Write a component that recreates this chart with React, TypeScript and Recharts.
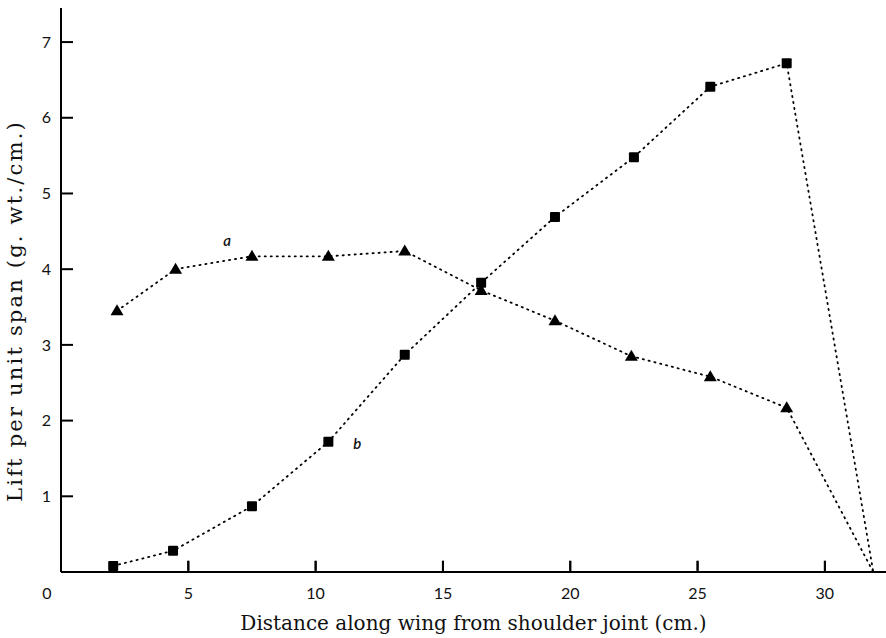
import React from "react";
import {
  LineChart,
  Line,
  XAxis,
  YAxis,
  ReferenceDot,
  ReferenceLine,
} from "recharts";

// distance along wing (cm)
const distA = [2.2, 4.5, 7.5, 10.5, 13.5, 16.5, 19.4, 22.4, 25.5, 28.5, 31.9];
const liftA = [3.45, 4.0, 4.17, 4.17, 4.24, 3.72, 3.32, 2.85, 2.58, 2.17, 0];

const distB = [2.05, 4.4, 7.5, 10.5, 13.5, 16.5, 19.4, 22.5, 25.5, 28.5, 31.9];
const liftB = [0.08, 0.28, 0.87, 1.72, 2.87, 3.82, 4.69, 5.48, 6.41, 6.72, 0];

const xTicks = [0, 5, 10, 15, 20, 25, 30];
const yTicks = [1, 2, 3, 4, 5, 6, 7];

const seriesA = distA.map((x, i) => ({ x, y: liftA[i] }));
const seriesB = distB.map((x, i) => ({ x, y: liftB[i] }));

const tickFont = "Lato, 'Open Sans', sans-serif";
const serif = "'DejaVu Serif', 'Liberation Serif', serif";

function triangle(props: any) {
  const { cx, cy, index } = props;
  if (index === distA.length - 1) return <g key={"ta" + index} />;
  const s = 6.5;
  return (
    <polygon
      key={"ta" + index}
      points={`${cx},${cy - s} ${cx - s},${cy + s * 0.7} ${cx + s},${cy + s * 0.7}`}
      fill="#000"
    />
  );
}

function square(props: any) {
  const { cx, cy, index } = props;
  if (index === distB.length - 1) return <g key={"sb" + index} />;
  return (
    <rect key={"sb" + index} x={cx - 5} y={cy - 5} width={10} height={10} rx={1} fill="#000" />
  );
}

// tick label plus a short upward tick mark drawn from the axis line
function XTick(props: any) {
  const { x, y, payload } = props;
  const dx = payload.value === 0 ? -14 : 0;
  const axisY = y - 14;
  return (
    <g>
      {payload.value !== 0 && (
        <rect x={x - 1} y={axisY - 11} width={2} height={11} fill="#000" />
      )}
      <text
        x={x + dx}
        y={y}
        textAnchor="middle"
        dominantBaseline="hanging"
        fontFamily={tickFont}
        fontSize={16}
        fill="#111"
      >
        {payload.value}
      </text>
    </g>
  );
}

function YTitle(props: any) {
  const { viewBox } = props;
  const cx = viewBox.x + 15;
  const cy = viewBox.y + viewBox.height / 2 + 21;
  return (
    <text
      x={cx}
      y={cy}
      transform={`rotate(-90, ${cx}, ${cy})`}
      textAnchor="middle"
      dominantBaseline="central"
      fontFamily={serif}
      fontSize={21}
      letterSpacing={2.2}
      fill="#111"
    >
      Lift per unit span (g. wt./cm.)
    </text>
  );
}

export default function App() {
  return (
    <div style={{ position: "absolute", left: 0, top: 0, background: "#fff" }}>
      <LineChart
        width={886}
        height={638}
        margin={{ top: 8, right: 0, bottom: 0, left: 0 }}
      >
        <XAxis
          type="number"
          dataKey="x"
          domain={[0, 32.4]}
          ticks={xTicks}
          height={66}
          tickSize={0}
          tickMargin={14}
          tickLine={false}
          tick={<XTick />}
          axisLine={{ stroke: "#000", strokeWidth: 2 }}
          label={{
            value: "Distance along wing from shoulder joint (cm.)",
            position: "insideBottom",
            offset: 8,
            style: { fontFamily: serif, fontSize: 20, fill: "#111" },
          }}
        />
        <YAxis
          type="number"
          domain={[0, 7.45]}
          ticks={yTicks}
          width={61}
          tickSize={-12}
          tickMargin={22}
          tickLine={{ stroke: "#000", strokeWidth: 2 }}
          axisLine={{ stroke: "#000", strokeWidth: 2 }}
          tick={{ fontFamily: tickFont, fontSize: 16, fill: "#111" }}
          label={<YTitle />}
        />
        {xTicks
          .filter((t) => t > 0)
          .map((t) => (
            <ReferenceLine
              key={"xt" + t}
              segment={[
                { x: t, y: 0.02 },
                { x: t, y: 0.15 },
              ]}
              stroke="#000"
              strokeWidth={2}
              ifOverflow="extendDomain"
            />
          ))}
        <Line
          data={seriesA}
          dataKey="y"
          type="linear"
          stroke="#000"
          strokeWidth={1.8}
          strokeDasharray="1.2 4.8"
          strokeLinecap="round"
          dot={triangle}
          activeDot={false}
          isAnimationActive={false}
        />
        <Line
          data={seriesB}
          dataKey="y"
          type="linear"
          stroke="#000"
          strokeWidth={1.8}
          strokeDasharray="1.2 4.8"
          strokeLinecap="round"
          dot={square}
          activeDot={false}
          isAnimationActive={false}
        />
        <ReferenceDot
          x={6.52}
          y={4.37}
          r={0}
          ifOverflow="visible"
          label={{
            value: "a",
            position: "center",
            style: { fontFamily: tickFont, fontStyle: "italic", fontWeight: 600, fontSize: 15, fill: "#111" },
          }}
        />
        <ReferenceDot
          x={11.63}
          y={1.69}
          r={0}
          ifOverflow="visible"
          label={{
            value: "b",
            position: "center",
            style: { fontFamily: tickFont, fontStyle: "italic", fontWeight: 600, fontSize: 15, fill: "#111" },
          }}
        />
      </LineChart>
    </div>
  );
}
